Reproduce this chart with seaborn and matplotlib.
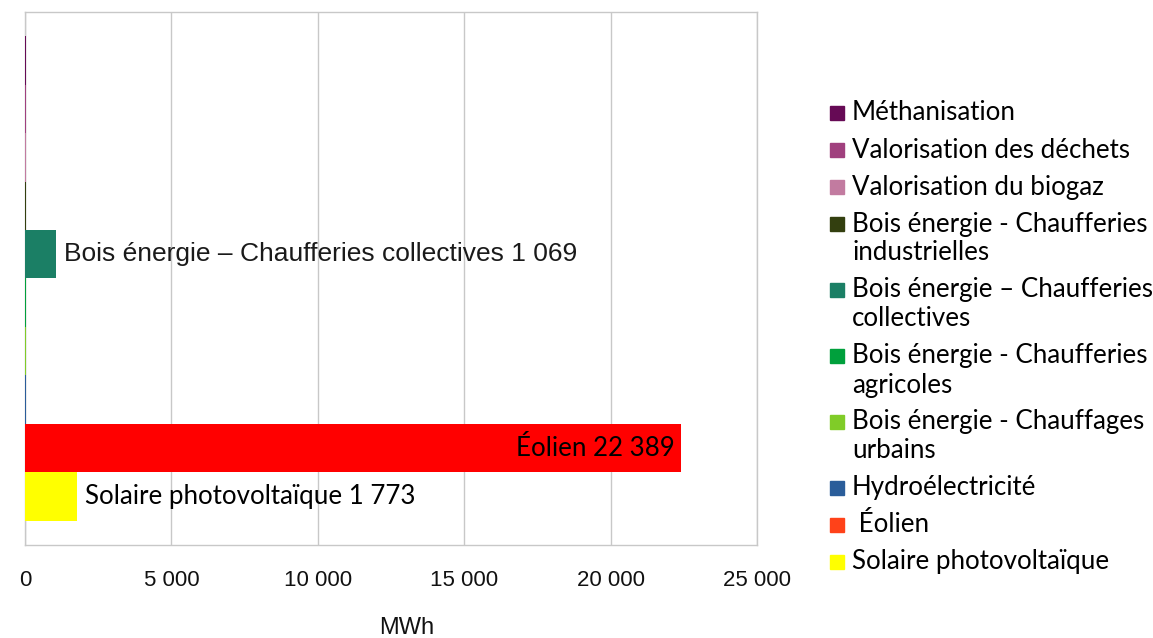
import pandas as pd
import matplotlib.pyplot as plt
import seaborn as sns
from matplotlib.patches import Rectangle
from matplotlib.ticker import FuncFormatter

# Production par filière (MWh)
filieres = [
    "Méthanisation",
    "Valorisation des déchets",
    "Valorisation du biogaz",
    "Bois énergie - Chaufferies industrielles",
    "Bois énergie – Chaufferies collectives",
    "Bois énergie - Chaufferies agricoles",
    "Bois énergie - Chauffages urbains",
    "Hydroélectricité",
    "Éolien",
    "Solaire photovoltaïque",
]
# tiny values barely visible as slivers on the chart
production = [40, 40, 40, 40, 1069, 40, 40, 40, 22389, 1773]
bar_colors = ["#660A55", "#A0407E", "#C27BA0", "#333F0F", "#1B7F65",
              "#00A03C", "#80CC28", "#2A5D9A", "#FF0000", "#FFFF00"]
legend_colors = ["#660A55", "#A0407E", "#C27BA0", "#333F0F", "#1B7F65",
                 "#00A03C", "#80CC28", "#2A5D9A", "#FF4219", "#FFFF00"]
legend_labels = [
    ["Méthanisation"],
    ["Valorisation des déchets"],
    ["Valorisation du biogaz"],
    ["Bois énergie - Chaufferies", "industrielles"],
    ["Bois énergie – Chaufferies", "collectives"],
    ["Bois énergie - Chaufferies", "agricoles"],
    ["Bois énergie - Chauffages", "urbains"],
    ["Hydroélectricité"],
    [" Éolien"],
    ["Solaire photovoltaïque"],
]
x_ticks = [0, 5000, 10000, 15000, 20000, 25000]

df = pd.DataFrame({"filiere": filieres, "mwh": production})

sns.set_style("white")
plt.rcParams["font.family"] = ["Lato", "DejaVu Sans"]

W, H = 1153, 638
fig = plt.figure(figsize=(W / 100, H / 100), dpi=100)
ax = fig.add_axes([25 / W, 1 - 545 / H, 732 / W, 533 / H])

sns.barplot(data=df, x="mwh", y="filiere", hue="filiere", palette=bar_colors,
            width=1, legend=False, orient="h", ax=ax, linewidth=0, saturation=1)
for p in ax.patches:
    p.set_zorder(3)

grid_c = "#C8C8C8"
ax.set_xlim(0, 25000)
ax.set_ylim(10, -1)
ax.set_xticks(x_ticks)
ax.xaxis.set_major_formatter(FuncFormatter(lambda v, p: f"{int(v):,}".replace(",", " ")))
ax.set_yticks([-1, 10])
ax.set_yticklabels([])
ax.set_xlabel("")
ax.set_ylabel("")
ax.grid(axis="x", color=grid_c, linewidth=1)
ax.set_axisbelow(True)
for s in ax.spines.values():
    s.set_color(grid_c)
    s.set_linewidth(1)
    s.set_zorder(1)
ax.tick_params(axis="x", length=5, color=grid_c, width=1, pad=13, labelsize=16,
               labelcolor="#111111")
ax.tick_params(axis="y", length=8, color=grid_c, width=1)
for t in ax.get_xticklabels():
    t.set_family(["Liberation Sans Narrow", "Liberation Sans"])

# data labels
ax.text(1069 + 270, 4, "Bois énergie – Chaufferies collectives 1 069", va="center",
        ha="left", fontsize=19, family=["Liberation Sans", "DejaVu Sans"], color="#1a1a1a",
        zorder=4)
ax.text(22389 - 200, 8, "Éolien 22 389", va="center", ha="right", fontsize=18.6,
        color="#000000", zorder=4)
ax.text(1773 + 270, 9, "Solaire photovoltaïque 1 773", va="center", ha="left",
        fontsize=18.6, color="#000000", zorder=4)

fig.text(407 / W, 1 - 628 / H, "MWh", ha="center", va="center", fontsize=17,
         family=["Liberation Sans Narrow", "Liberation Sans"], color="#111111")

# legend drawn by hand so the swatch sits on the first line
y = 113
for lines, col in zip(legend_labels, legend_colors):
    fig.patches.append(Rectangle((830 / W, 1 - (y + 7) / H), 14 / W, 14 / H,
                                 transform=fig.transFigure, color=col))
    for i, line in enumerate(lines):
        fig.text(852 / W, 1 - (y + 29 * i) / H, line, ha="left", va="center",
                 fontsize=18.6, color="#000000")
    y += 37 + 29 * (len(lines) - 1)

fig.savefig("out.png", dpi=100)
